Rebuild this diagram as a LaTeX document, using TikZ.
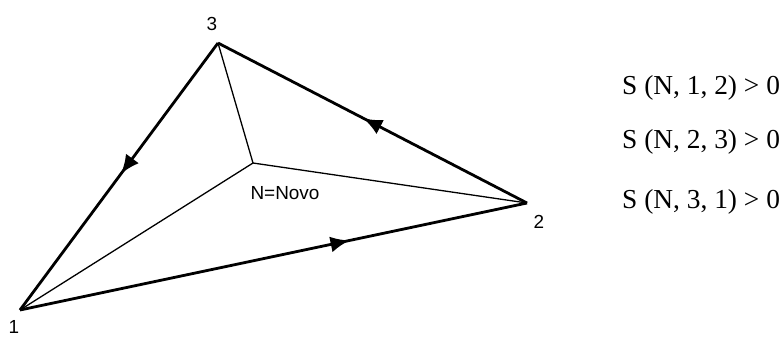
\documentclass[tikz,border=0pt]{standalone}
\usepackage{fontspec}
\setmainfont{Liberation Serif}
\newfontfamily\arialf{Liberation Sans}
\usetikzlibrary{arrows.meta,decorations.markings}
\begin{document}
\begin{tikzpicture}[x=1bp,y=-1bp,
  edge/.style={line width=2.8bp},
  inner/.style={line width=1.3bp},
  lab/.style={font=\arialf\fontsize{19}{22}\selectfont, inner sep=0},
  eq/.style={font=\fontsize{27.5}{30}\selectfont, anchor=base west, inner sep=0},
  mid/.style={postaction={decorate},decoration={markings,
     mark=at position #1 with {\arrow{Latex[length=19bp,width=16bp]}}}}]
\path[use as bounding box] (0,0) rectangle (782,336);
\coordinate (v1) at (20,310);
\coordinate (v2) at (527,203);
\coordinate (v3) at (218,43);
\coordinate (n) at (253,163);
\draw[inner] (v1) -- (n) -- (v2);
\draw[inner] (n) -- (v3);
\draw[edge, mid=0.49] (v3) -- (v1);
\draw[edge, mid=0.65] (v1) -- (v2);
\draw[edge, mid=0.53] (v2) -- (v3);
\node[lab] (l3) at (212,24) {3};
\node[lab] (l1) at (14,327) {1};
\node[lab] (l2) at (539,222) {2};
\node[lab] (ln) at (285,193) {N=Novo};
\node[eq] (e1) at (622,94) {S (N, 1, 2) > 0};
\node[eq] (e2) at (622,148) {S (N, 2, 3) > 0};
\node[eq] (e3) at (622,208) {S (N, 3, 1) > 0};
\end{tikzpicture}
\end{document}
